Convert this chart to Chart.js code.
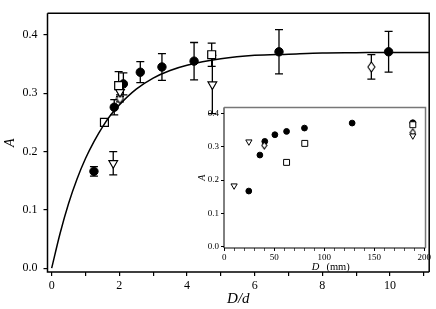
<!DOCTYPE html>
<html><head><meta charset="utf-8">
<script src="https://cdn.jsdelivr.net/npm/chart.js@4.4.1/dist/chart.umd.min.js"></script>
<style>
html,body{margin:0;padding:0;background:#fff}
#wrap{position:relative;width:436px;height:309px}
#cMain{position:absolute;left:0;top:0}
#cInset{position:absolute;left:196px;top:100px}
</style></head><body>
<div id="wrap"><canvas id="cMain" width="436" height="309"></canvas><canvas id="cInset" width="236" height="172"></canvas></div>
<script>
// panel principal, x = D/d
const CIRC_X=[1.25,1.85,2.12,2.62,3.26,4.21,6.72,9.96];
const CIRC_Y=[0.166,0.276,0.316,0.336,0.345,0.355,0.371,0.371];
const CIRC_E=[0.008,0.013,0.019,0.018,0.023,0.032,0.038,0.035];
const SQ_X=[1.56,1.98,4.73];
const SQ_Y=[0.25,0.313,0.366];
const SQ_E=[0,0.024,0.02];
const TRI_X=[1.82,2.02,4.75];
const TRI_Y=[0.18,0.302,0.315];
const TRI_E=[0.02,0.008,0.05];
const DIA_X=[2.02,9.45];
const DIA_Y=[0.291,0.345];
const DIA_E=[0.006,0.021];
// curva de ajuste
const CURVE_X=[0,0.25,0.5,0.75,1,1.25,1.5,1.75,2,2.5,3,3.5,4,5,6,7,8,9,10,11.2];
const CURVE_Y=[0,0.060,0.111,0.153,0.188,0.217,0.242,0.263,0.280,0.307,0.326,0.339,0.348,0.359,0.365,0.367,0.369,0.3695,0.37,0.37];
const MAIN_X_TICKS=[0,1,2,3,4,5,6,7,8,9,10,11];
const MAIN_X_LABELED=[0,2,4,6,8,10];
const MAIN_Y_TICKS=[0,0.1,0.2,0.3,0.4];

// inset, x = D (mm)
const IN_CIRC_D=[24.5,35.6,40.5,50.6,62.3,80.2,127.9,188.6];
const IN_CIRC_A=[0.167,0.275,0.316,0.336,0.346,0.356,0.371,0.372];
const IN_SQ_D=[62.3,80.5,188.6];
const IN_SQ_A=[0.253,0.31,0.366];
const IN_TRI_D=[9.8,24.6,188.6];
const IN_TRI_A=[0.183,0.315,0.333];
const IN_DIA_D=[40.0,188.6];
const IN_DIA_A=[0.304,0.343];
const IN_X_TICKS=[0,10,20,30,40,50,60,70,80,90,100,110,120,130,140,150,160,170,180,190,200];
const IN_X_LABELED=[0,50,100,150,200];
const IN_Y_TICKS=[0,0.1,0.2,0.3,0.4];

const SERIF='"Liberation Serif","DejaVu Serif",serif';
const pts=(xs,ys)=>xs.map((x,i)=>({x,y:ys[i]}));

function diamond(w,h){
  const c=document.createElement('canvas');c.width=w+2;c.height=h+2;
  const g=c.getContext('2d');
  g.beginPath();g.moveTo(c.width/2,1);g.lineTo(c.width-1,c.height/2);g.lineTo(c.width/2,c.height-1);g.lineTo(1,c.height/2);g.closePath();
  g.fillStyle='#fff';g.fill();g.lineWidth=1.1;g.strokeStyle='#000';g.stroke();
  return c;
}

const errorBars={
  id:'errorBars',
  beforeDatasetsDraw(chart,args,opts){
    const {ctx,scales:{x,y}}=chart;
    ctx.save();ctx.strokeStyle='#000';ctx.lineWidth=opts.width||1.2;
    const cap=opts.cap||4;
    chart.data.datasets.forEach(ds=>{
      if(!ds.errs)return;
      ds.data.forEach((p,i)=>{
        const e=ds.errs[i];if(!e)return;
        const px=x.getPixelForValue(p.x);
        const y1=y.getPixelForValue(p.y-e),y2=y.getPixelForValue(p.y+e);
        ctx.beginPath();
        ctx.moveTo(px,y1);ctx.lineTo(px,y2);
        ctx.moveTo(px-cap,y1);ctx.lineTo(px+cap,y1);
        ctx.moveTo(px-cap,y2);ctx.lineTo(px+cap,y2);
        ctx.stroke();
      });
    });
    ctx.restore();
  }
};

const frame={
  id:'frame',
  afterDraw(chart,args,opts){
    const {ctx,chartArea:a}=chart;
    ctx.save();
    ctx.lineWidth=opts.width||1.5;
    ctx.strokeStyle=opts.axisColor||'#000';
    ctx.beginPath();ctx.moveTo(a.left,a.top);ctx.lineTo(a.left,a.bottom);ctx.lineTo(a.right,a.bottom);ctx.stroke();
    ctx.strokeStyle=opts.boxColor||'#000';
    ctx.lineWidth=opts.boxWidth||opts.width||1.5;
    ctx.beginPath();ctx.moveTo(a.left,a.top);ctx.lineTo(a.right,a.top);ctx.lineTo(a.right,a.bottom);ctx.stroke();
    ctx.restore();
  }
};

const insetXTitle={
  id:'insetXTitle',
  afterDraw(chart){
    const {ctx,chartArea:a}=chart;
    ctx.save();ctx.fillStyle='#000';ctx.textBaseline='middle';ctx.textAlign='left';
    ctx.font='italic 10.5px '+SERIF;const w1=ctx.measureText('D').width;
    ctx.font='10.5px '+SERIF;const w2=ctx.measureText('(mm)').width;
    const gap=7;
    const x0=(a.left+a.right)/2+6-(w1+gap+w2)/2, yy=a.bottom+19;
    ctx.font='italic 10.5px '+SERIF;ctx.fillText('D',x0,yy);
    ctx.font='10.5px '+SERIF;ctx.fillText('(mm)',x0+w1+gap,yy);
    ctx.restore();
  }
};

function tickGrid(len,w){
  return {display:true,drawOnChartArea:false,drawTicks:true,tickLength:len,color:'#000',lineWidth:w};
}

// ---- gráfico principal ----
new Chart(document.getElementById('cMain'),{
  type:'scatter',
  data:{datasets:[
    {type:'line',data:pts(CURVE_X,CURVE_Y),borderColor:'#000',borderWidth:1.5,pointRadius:0,fill:false,tension:0.4,cubicInterpolationMode:'monotone'},
    {data:pts(TRI_X,TRI_Y),errs:TRI_E,pointStyle:'triangle',rotation:180,pointRadius:5,backgroundColor:'#fff',borderColor:'#000',borderWidth:1.2},
    {data:pts(DIA_X,DIA_Y),errs:DIA_E,pointStyle:diamond(7,10),pointRadius:5},
    {data:pts(SQ_X,SQ_Y),errs:SQ_E,pointStyle:'rect',pointRadius:5.6,backgroundColor:'#fff',borderColor:'#000',borderWidth:1.2},
    {data:pts(CIRC_X,CIRC_Y),errs:CIRC_E,pointStyle:'circle',pointRadius:4.2,backgroundColor:'#000',borderColor:'#000',borderWidth:1}
  ]},
  options:{responsive:false,animation:false,events:[],
    layout:{padding:{left:0,right:3,top:1,bottom:0}},
    plugins:{legend:{display:false},tooltip:{enabled:false},errorBars:{cap:4,width:1.3},frame:{width:1.5}},
    scales:{
      x:{type:'linear',min:-0.123,max:11.16,
        afterFit:s=>{s.height=37},
        afterBuildTicks:s=>{s.ticks=MAIN_X_TICKS.map(v=>({value:v}))},
        grid:tickGrid(4,1.2),border:{display:false},
        ticks:{autoSkip:false,maxRotation:0,padding:3,color:'#000',font:{family:SERIF,size:12},
          callback:v=>MAIN_X_LABELED.includes(v)?String(v):''},
        title:{display:true,text:'D/d',color:'#000',font:{family:SERIF,size:15,style:'italic'},padding:{top:0,bottom:1}}
      },
      y:{type:'linear',min:-0.00655,max:0.4372,
        afterFit:s=>{s.width=47.5},
        afterBuildTicks:s=>{s.ticks=MAIN_Y_TICKS.map(v=>({value:v}))},
        grid:tickGrid(4,1.2),border:{display:false},
        ticks:{padding:6,color:'#000',font:{family:SERIF,size:12},callback:v=>v.toFixed(1)},
        title:{display:true,text:'A',color:'#000',font:{family:SERIF,size:14,style:'italic'},padding:{top:2,bottom:0}}
      }
    }
  },
  plugins:[errorBars,frame]
});

// ---- inset ----
new Chart(document.getElementById('cInset'),{
  type:'scatter',
  data:{datasets:[
    {data:pts(IN_TRI_D,IN_TRI_A),pointStyle:'triangle',rotation:180,pointRadius:3.6,backgroundColor:'#fff',borderColor:'#000',borderWidth:1},
    {data:pts(IN_DIA_D,IN_DIA_A),pointStyle:diamond(5,7),pointRadius:3.5},
    {data:pts(IN_SQ_D,IN_SQ_A),pointStyle:'rect',pointRadius:4.2,backgroundColor:'#fff',borderColor:'#000',borderWidth:1},
    {data:pts(IN_CIRC_D,IN_CIRC_A),pointStyle:'circle',pointRadius:2.9,backgroundColor:'#000',borderColor:'#000',borderWidth:1}
  ]},
  options:{responsive:false,animation:false,events:[],
    layout:{padding:{left:0,right:2,top:7,bottom:0}},
    plugins:{legend:{display:false},tooltip:{enabled:false},frame:{width:1,axisColor:'#000',boxColor:'#777',boxWidth:1.5}},
    scales:{
      x:{type:'linear',min:-0.3,max:201.3,
        afterFit:s=>{s.height=24},
        afterBuildTicks:s=>{s.ticks=IN_X_TICKS.map(v=>({value:v}))},
        grid:{display:true,drawOnChartArea:false,drawTicks:true,tickLength:3,lineWidth:1,
          color:c=>IN_X_LABELED.includes(c.tick&&c.tick.value)?'#000':'#555'},
        border:{display:false},
        ticks:{autoSkip:false,maxRotation:0,padding:1,color:'#000',font:{family:SERIF,size:9},
          callback:v=>IN_X_LABELED.includes(v)?String(v):''}
      },
      y:{type:'linear',min:-0.0039,max:0.418,
        afterFit:s=>{s.width=28},
        afterBuildTicks:s=>{s.ticks=IN_Y_TICKS.map(v=>({value:v}))},
        grid:tickGrid(3,1),border:{display:false},
        ticks:{padding:2,color:'#000',font:{family:SERIF,size:9},callback:v=>v.toFixed(1)},
        title:{display:true,text:'A',color:'#000',font:{family:SERIF,size:10,style:'italic'},padding:{top:0,bottom:0}}
      }
    }
  },
  plugins:[frame,insetXTitle]
});
</script>
</body></html>
